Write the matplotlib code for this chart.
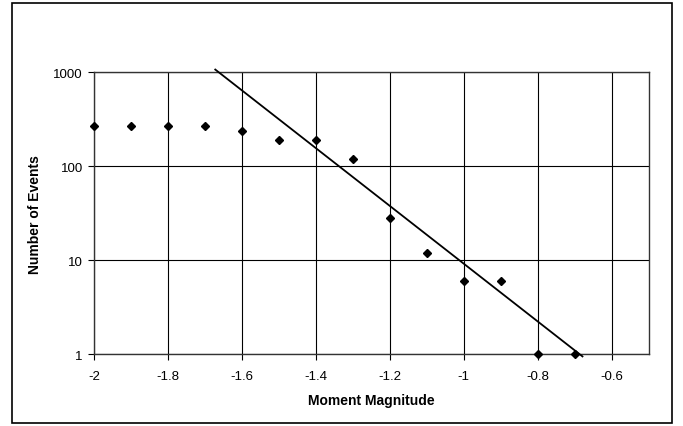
import numpy as np
import matplotlib
matplotlib.use('Agg')
import matplotlib.pyplot as plt
from matplotlib.patches import Rectangle
from matplotlib.ticker import FixedLocator, NullLocator

plt.rcParams['font.family'] = ['Liberation Sans', 'DejaVu Sans']

# observed events per moment magnitude bin
magnitude = [-2.0, -1.9, -1.8, -1.7, -1.6, -1.5, -1.4, -1.3, -1.2, -1.1, -1.0, -0.9, -0.8, -0.7]
events = [270, 270, 270, 270, 240, 190, 190, 120, 28, 12, 6, 6, 1, 1]

# fitted line end points
fit_x = [-1.672, -0.679]
fit_y = [1070, 0.95]

x_ticks = [-2, -1.8, -1.6, -1.4, -1.2, -1, -0.8, -0.6]
x_tick_labels = ['-2', '-1.8', '-1.6', '-1.4', '-1.2', '-1', '-0.8', '-0.6']
y_ticks = [1, 10, 100, 1000]
y_tick_labels = ['1', '10', '100', '1000']

fig = plt.figure(figsize=(6.83, 4.27), dpi=100)
ax = fig.add_axes([0.1376, 0.1679, 0.8121, 0.6604])

# outer frame around the whole chart
fig.patches.append(Rectangle((12 / 683, 1 - 424 / 427), 660 / 683, 420 / 427,
                             transform=fig.transFigure, fill=False,
                             edgecolor='black', linewidth=1.2))

ax.set_yscale('log')
ax.set_xlim(-2, -0.5)
ax.set_ylim(1, 1000)

ax.xaxis.set_major_locator(FixedLocator(x_ticks))
ax.set_xticklabels(x_tick_labels)
ax.yaxis.set_major_locator(FixedLocator(y_ticks))
ax.yaxis.set_minor_locator(NullLocator())
ax.set_yticklabels(y_tick_labels)

ax.grid(True, which='major', color='black', linewidth=0.8)
ax.set_axisbelow(True)
for sp in ax.spines.values():
    sp.set_color('#333333')
    sp.set_linewidth(1.0)

ax.tick_params(axis='both', which='major', labelsize=9.5, length=4, width=0.8,
               direction='out')
ax.tick_params(axis='x', pad=7)
ax.tick_params(axis='y', pad=4)

ax.plot(magnitude, events, linestyle='none', marker='D', markersize=4.3,
        color='black', clip_on=False, zorder=3)
ax.plot(fit_x, fit_y, color='black', linewidth=1.3, clip_on=False, zorder=3)

ax.set_xlabel('Moment Magnitude', fontsize=10, fontweight='bold')
ax.set_ylabel('Number of Events', fontsize=10, fontweight='bold')
ax.xaxis.set_label_coords(0.5, -0.138)
ax.yaxis.set_label_coords(-0.094, 0.5)

plt.savefig('out.png', dpi=100)
plt.close()
